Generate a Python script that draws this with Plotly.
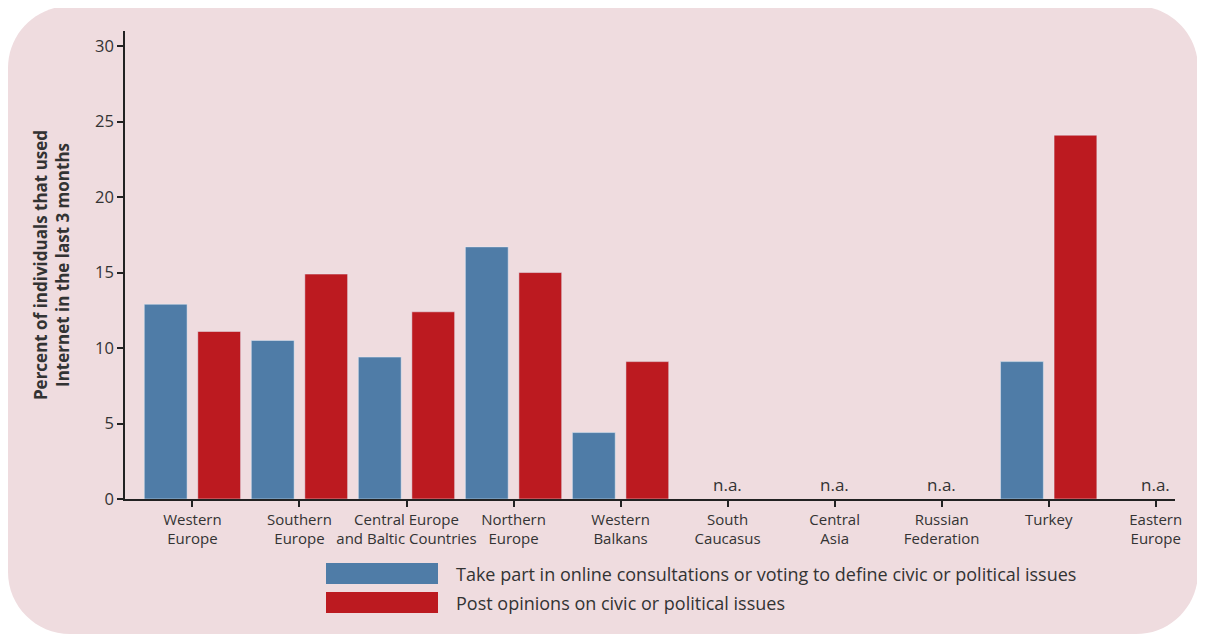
import plotly.graph_objects as go

regions = [
    "Western<br>Europe", "Southern<br>Europe", "Central Europe<br>and Baltic Countries",
    "Northern<br>Europe", "Western<br>Balkans", "South<br>Caucasus", "Central<br>Asia",
    "Russian<br>Federation", "Turkey", "Eastern<br>Europe",
]
consult = [12.9, 10.5, 9.4, 16.7, 4.4, None, None, None, 9.1, None]
post = [11.1, 14.9, 12.4, 15.0, 9.1, None, None, None, 24.1, None]
series_names = [
    "Take part in online consultations or voting to define civic or political issues",
    "Post opinions on civic or political issues",
]

BLUE = "#4f7ca7"
RED = "#bc1a20"
PINK = "#efdcdf"
TEXT = "#333333"
FONT = "Open Sans"

# page body adds an 8px offset, so the figure is a bit smaller than the window
OFF = 8
W, H = 1197, 627
ML, MR, MT = 117, 30, 23
PW, PH = W - ML - MR, 468
MB = H - MT - PH


def px_x(px):
    # screen pixel -> paper x
    return (px - OFF - ML) / PW


def px_y(py):
    # screen pixel -> paper y
    return (H - MB - (py - OFF)) / PH


fig = go.Figure()
fig.add_trace(go.Bar(x=regions, y=consult, marker_color=BLUE, name=series_names[0], showlegend=False))
fig.add_trace(go.Bar(x=regions, y=post, marker_color=RED, name=series_names[1], showlegend=False))

# n.a. labels for regions without data
for reg, a, b in zip(regions, consult, post):
    if a is None and b is None:
        fig.add_annotation(x=reg, y=0, text="n.a.", showarrow=False, yanchor="bottom",
                           yshift=1, font=dict(size=17, color=TEXT, family=FONT))

# rounded background panel
x0, x1, y0, y1, r = 8, 1198, 6, 634, 62
k = 0.5523 * r
pts = [
    f"M {px_x(x0 + r)},{px_y(y0)}",
    f"L {px_x(x1 - r)},{px_y(y0)}",
    f"C {px_x(x1 - r + k)},{px_y(y0)} {px_x(x1)},{px_y(y0 + r - k)} {px_x(x1)},{px_y(y0 + r)}",
    f"L {px_x(x1)},{px_y(y1 - r)}",
    f"C {px_x(x1)},{px_y(y1 - r + k)} {px_x(x1 - r + k)},{px_y(y1)} {px_x(x1 - r)},{px_y(y1)}",
    f"L {px_x(x0 + r)},{px_y(y1)}",
    f"C {px_x(x0 + r - k)},{px_y(y1)} {px_x(x0)},{px_y(y1 - r + k)} {px_x(x0)},{px_y(y1 - r)}",
    f"L {px_x(x0)},{px_y(y0 + r)}",
    f"C {px_x(x0)},{px_y(y0 + r - k)} {px_x(x0 + r - k)},{px_y(y0)} {px_x(x0 + r)},{px_y(y0)}",
    "Z",
]
fig.add_shape(type="path", path=" ".join(pts), xref="paper", yref="paper",
              fillcolor=PINK, line_width=0, layer="below")

# custom legend
for i, (name, color) in enumerate(zip(series_names, [BLUE, RED])):
    top = 563 + i * 29
    fig.add_shape(type="rect", xref="paper", yref="paper",
                  x0=px_x(326), x1=px_x(438), y0=px_y(top), y1=px_y(top + 21),
                  fillcolor=color, line_width=0)
    fig.add_annotation(xref="paper", yref="paper", x=px_x(454), y=px_y(top + 10.5),
                       text=name, showarrow=False, xanchor="left", yanchor="middle",
                       font=dict(size=18, color=TEXT, family=FONT))

fig.update_layout(
    width=W, height=H,
    margin=dict(l=ML, r=MR, t=MT, b=MB),
    paper_bgcolor="white", plot_bgcolor="rgba(0,0,0,0)",
    barmode="group", bargap=0.0, bargroupgap=0.2,
    font=dict(family=FONT, color=TEXT),
)
fig.update_xaxes(
    range=[-0.63, 9.18], showline=True, linecolor="#222", linewidth=1.5,
    ticks="outside", ticklen=6, tickcolor="#222", tickwidth=1.5,
    tickfont=dict(size=15, color=TEXT, family=FONT), showgrid=False, zeroline=False,
)
fig.update_yaxes(
    range=[0, 31], tickvals=[0, 5, 10, 15, 20, 25, 30], showline=True, linecolor="#222",
    linewidth=1.5, ticks="outside", ticklen=6, tickcolor="#222", tickwidth=1.5,
    tickfont=dict(size=16.5, color=TEXT, family=FONT), showgrid=False, zeroline=False,
    title=dict(text="<b>Percent of individuals that used<br>Internet in the last 3 months</b>",
               font=dict(size=17, color=TEXT, family=FONT), standoff=21),
)

fig.write_html("out.html")
